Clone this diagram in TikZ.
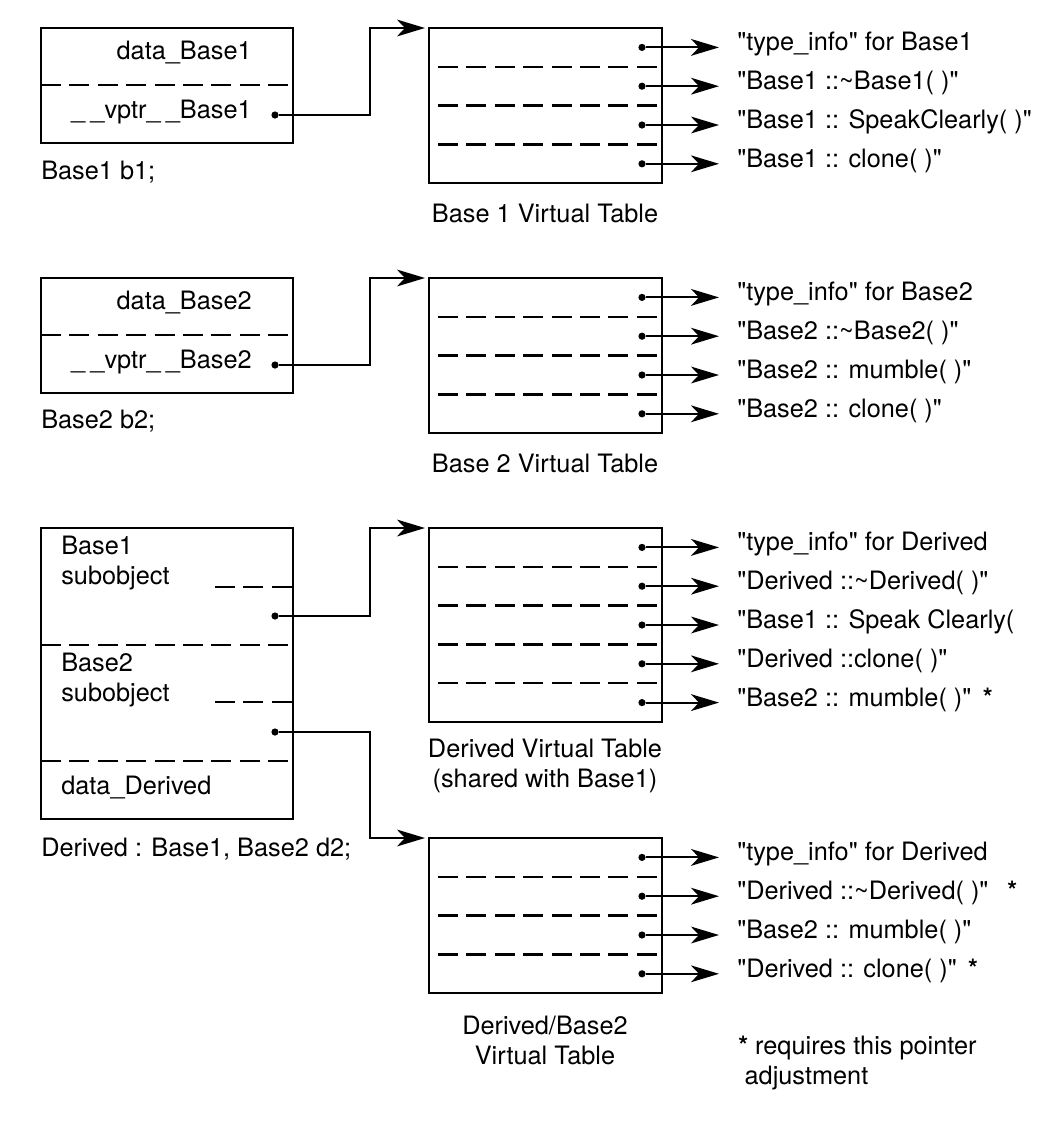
\documentclass[tikz,border=0pt]{standalone}
\usepackage{fontspec}
\setmainfont{TeX Gyre Heros}[Ligatures=TeXOff]
\usetikzlibrary{arrows.meta}

\newcommand{\usc}{\_\kern0.13cm\_}
\newcommand{\adj}{\hspace{0.45em}{\bfseries *}}

\tikzset{
  objbox/.style={draw, line width=1.7pt, outer sep=0pt, anchor=north west, minimum width=6.3cm},
  tabbox/.style={draw, line width=1.7pt, outer sep=0pt, anchor=north west, minimum width=5.825cm},
  rowline/.style={line width=1.6pt, dash pattern=on 0.5cm off 0.21cm},
  ptr/.style={line width=1.5pt, -{Stealth[length=0.7cm,width=0.42cm,inset=0.2cm]}},
  ptrdot/.style={circle, fill, inner sep=0pt, minimum size=0.18cm},
  lbl/.style={inner sep=0pt, text height=0.72em, text depth=0.22em},
  slot/.style={lbl, anchor=west},
  caption/.style={inner sep=0pt, align=center},
}

\begin{document}
\begin{tikzpicture}[x=0.025cm, y=-0.025cm, font=\fontsize{18}{21.3}\selectfont]
\useasboundingbox (0,0) rectangle (1056,1126);

% Base1 b1 and its vtbl
\begin{scope}
  \node[objbox, minimum height=2.875cm] (b1) at (41,28) {};
  \draw[rowline] (41,85) -- (293,85);
  \node[lbl, anchor=east] (b1data) at (252,56) {data\_Base1};
  \node[lbl, anchor=east] (b1vptr) at (252,115) {\usc vptr\usc Base1};
  \node[ptrdot] (b1p) at (275,115) {};
  \node[lbl, anchor=west] (b1decl) at (41,176) {Base1 b1;};

  \node[tabbox, minimum height=3.88cm] (vt1) at (429,28) {};
  \foreach \k in {1,2,3}
    \draw[rowline] (438,{28+38.8*\k}) -- (662,{28+38.8*\k});
  \foreach \txt [count=\k] in {{"type\_info" for Base1}, {"Base1 ::\textasciitilde Base1( )"}, {"Base1 :: SpeakClearly( )"}, {"Base1 :: clone( )"}} {
    \node[ptrdot] (e1\k) at (642,{28+38.8*\k-19.4}) {};
    \node[slot] (f1\k) at (737,{28+38.8*\k-19.4}) {\txt};
    \draw[ptr, shorten >=0.45cm] (e1\k) -- (f1\k.west);
  }
  \node[caption] (vt1cap) at (545,213) {Base 1 Virtual Table};

  \draw[ptr, shorten >=0.1cm] (b1p) -- ++(95,0) |- (vt1.north west);
\end{scope}

% Base2 b2 and its vtbl
\begin{scope}[shift={(0,250)}]
  \node[objbox, minimum height=2.875cm] (b2) at (41,28) {};
  \draw[rowline] (41,85) -- (293,85);
  \node[lbl, anchor=east] (b2data) at (252,56) {data\_Base2};
  \node[lbl, anchor=east] (b2vptr) at (252,115) {\usc vptr\usc Base2};
  \node[ptrdot] (b2p) at (275,115) {};
  \node[lbl, anchor=west] (b2decl) at (41,175) {Base2 b2;};

  \node[tabbox, minimum height=3.88cm] (vt2) at (429,28) {};
  \foreach \k in {1,2,3}
    \draw[rowline] (438,{28+38.8*\k}) -- (662,{28+38.8*\k});
  \foreach \txt [count=\k] in {{"type\_info" for Base2}, {"Base2 ::\textasciitilde Base2( )"}, {"Base2 :: mumble( )"}, {"Base2 :: clone( )"}} {
    \node[ptrdot] (e2\k) at (642,{28+38.8*\k-19.4}) {};
    \node[slot] (f2\k) at (737,{28+38.8*\k-19.4}) {\txt};
    \draw[ptr, shorten >=0.45cm] (e2\k) -- (f2\k.west);
  }
  \node[caption] (vt2cap) at (545,213) {Base 2 Virtual Table};

  \draw[ptr, shorten >=0.1cm] (b2p) -- ++(95,0) |- (vt2.north west);
\end{scope}

% Derived d2 with two vptrs
\node[objbox, minimum height=7.275cm] (d2) at (41,528) {};
\draw[rowline] (41,645) -- (293,645);
\draw[rowline] (41,761) -- (293,761);
\draw[rowline] (215,587) -- (293,587);
\draw[rowline] (215,702) -- (293,702);
\node[caption, align=left, anchor=west] (sub1) at (61,563) {Base1\\subobject};
\node[caption, align=left, anchor=west] (sub2) at (61,680) {Base2\\subobject};
\node[lbl, anchor=west] (d2data) at (61,791) {data\_Derived};
\node[ptrdot] (d2p1) at (275,616) {};
\node[ptrdot] (d2p2) at (275,732) {};
\node[lbl, anchor=west] (d2decl) at (41,853) {Derived : Base1, Base2 d2;};

% shared vtbl
\node[tabbox, minimum height=4.85cm] (vt3) at (429,528) {};
\foreach \k in {1,...,4}
  \draw[rowline] (438,{528+38.8*\k}) -- (662,{528+38.8*\k});
\foreach \txt [count=\k] in {{"type\_info" for Derived}, {"Derived ::\textasciitilde Derived( )"}, {"Base1 :: Speak Clearly(}, {"Derived ::clone( )"}, {"Base2 :: mumble( )"\adj}} {
  \node[ptrdot] (e3\k) at (642,{528+38.8*\k-19.4}) {};
  \node[slot] (f3\k) at (737,{528+38.8*\k-19.4}) {\txt};
  \draw[ptr, shorten >=0.45cm] (e3\k) -- (f3\k.west);
}
\node[caption] (vt3cap) at (545,766) {Derived Virtual Table\\(shared with Base1)};

% Base2 vtbl in Derived
\node[tabbox, minimum height=3.88cm] (vt4) at (429,838) {};
\foreach \k in {1,2,3}
  \draw[rowline] (438,{838+38.8*\k}) -- (662,{838+38.8*\k});
\foreach \txt [count=\k] in {{"type\_info" for Derived}, {"Derived ::\textasciitilde Derived( )"\hspace{0.3em}\adj}, {"Base2 :: mumble( )"}, {"Derived :: clone( )"\adj}} {
  \node[ptrdot] (e4\k) at (642,{838+38.8*\k-19.4}) {};
  \node[slot] (f4\k) at (737,{838+38.8*\k-19.4}) {\txt};
  \draw[ptr, shorten >=0.45cm] (e4\k) -- (f4\k.west);
}
\node[caption] (vt4cap) at (545,1040) {Derived/Base2\\Virtual Table};

\node[caption, align=left, anchor=west] (note) at (738,1063) {{\bfseries *} requires this pointer\\\hspace{0.25em}adjustment};

\draw[ptr, shorten >=0.1cm] (d2p1) -- ++(95,0) |- (vt3.north west);
\draw[ptr, shorten >=0.1cm] (d2p2) -- ++(95,0) |- (vt4.north west);

\end{tikzpicture}
\end{document}
